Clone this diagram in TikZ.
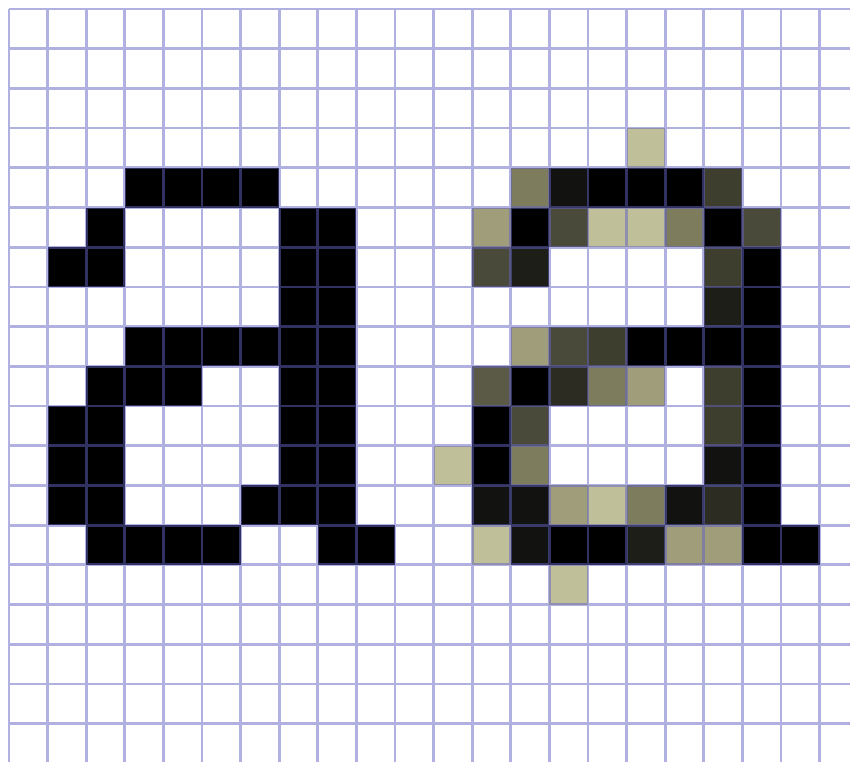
\documentclass[tikz,border=0pt]{standalone}
\definecolor{gridc}{RGB}{98,98,196}
\definecolor{kA}{RGB}{191,191,153}
\definecolor{kB}{RGB}{159,157,122}
\definecolor{kC}{RGB}{125,125,94}
\definecolor{kD}{RGB}{90,90,70}
\definecolor{kE}{RGB}{74,74,58}
\definecolor{kF}{RGB}{62,62,46}
\definecolor{kG}{RGB}{44,44,34}
\definecolor{kH}{RGB}{30,30,24}
\definecolor{kI}{RGB}{18,18,16}
\begin{document}
\begin{tikzpicture}[x=1pt,y=-1pt,
  gridline/.style={draw=gridc,opacity=0.5,line width=2.8pt},
  pix/.style={fill=#1}]
\def\cw{38.6}
\def\ch{39.7}
\useasboundingbox (0,0) rectangle (850,762);
\fill[white] (0,0) rectangle (850,762);
% left glyph (black pixels)
\foreach \c/\r in {3/4,4/4,5/4,6/4,
  2/5,7/5,8/5,
  1/6,2/6,7/6,8/6,
  7/7,8/7,
  3/8,4/8,5/8,6/8,7/8,8/8,
  2/9,3/9,4/9,7/9,8/9,
  1/10,2/10,7/10,8/10,
  1/11,2/11,7/11,8/11,
  1/12,2/12,6/12,7/12,8/12,
  2/13,3/13,4/13,5/13,8/13,9/13}
  \fill[pix=black] ({9+\cw*\c},{9+\ch*\r}) rectangle ++(\cw,\ch);
% right glyph (antialiased pixels)
\foreach \c/\r/\k in {16/3/kA,
  13/4/kC,14/4/kI,15/4/black,16/4/black,17/4/black,18/4/kF,
  12/5/kB,13/5/black,14/5/kE,15/5/kA,16/5/kA,17/5/kC,18/5/black,19/5/kE,
  12/6/kE,13/6/kH,18/6/kF,19/6/black,
  18/7/kH,19/7/black,
  13/8/kB,14/8/kE,15/8/kF,16/8/black,17/8/black,18/8/black,19/8/black,
  12/9/kD,13/9/black,14/9/kG,15/9/kC,16/9/kB,18/9/kF,19/9/black,
  12/10/black,13/10/kE,18/10/kF,19/10/black,
  11/11/kA,12/11/black,13/11/kC,18/11/kI,19/11/black,
  12/12/kI,13/12/kI,14/12/kB,15/12/kA,16/12/kC,17/12/kI,18/12/kG,19/12/black,
  12/13/kA,13/13/kI,14/13/black,15/13/black,16/13/kH,17/13/kB,18/13/kB,19/13/black,20/13/black,
  14/14/kA}
  \fill[pix=\k] ({9+\cw*\c},{9+\ch*\r}) rectangle ++(\cw,\ch);
% grid
\draw[gridline]
  \foreach \i in {0,...,21} { ({9+\cw*\i},9) -- ({9+\cw*\i},762) }
  \foreach \j in {0,...,18} { (9,{9+\ch*\j}) -- (850,{9+\ch*\j}) };
\end{tikzpicture}
\end{document}
